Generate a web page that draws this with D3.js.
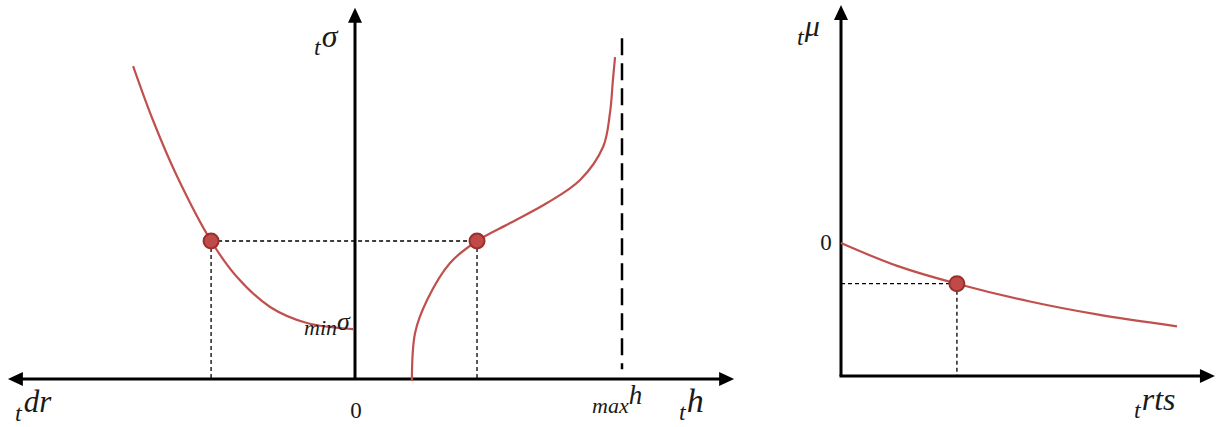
<!DOCTYPE html>
<html>
<head>
<meta charset="utf-8">
<script src="https://cdn.jsdelivr.net/npm/d3@7"></script>
<style>
  html, body { margin: 0; padding: 0; background: #ffffff; }
  svg { display: block; }
  .math { font-family: "Liberation Serif", "DejaVu Serif", serif; font-style: italic; fill: #1a1a1a; }
  .num { font-family: "Liberation Serif", "DejaVu Serif", serif; fill: #1a1a1a; }
</style>
</head>
<body>
<svg id="chart" width="1219" height="427"></svg>
<script>
// ---- Left panel: σ as function of dr (left branch) and h (right branch) ----
const leftBranchX = [-0.831, -0.757, -0.667, -0.539, -0.442, -0.318, -0.180, -0.007];
const leftBranchY = [2.268, 1.877, 1.471, 1.000, 0.739, 0.522, 0.406, 0.362];

const rightBranchX = [0.213, 0.225, 0.270, 0.356, 0.457, 0.581, 0.719, 0.843, 0.929, 0.955, 0.966, 0.974];
const rightBranchY = [-0.015, 0.333, 0.572, 0.841, 1.000, 1.130, 1.275, 1.442, 1.681, 1.928, 2.167, 2.333];

const leftMarkersX = [-0.539, 0.457];
const leftMarkersY = [1.0, 1.0];
const hMax = 1.0;
const sigmaMin = 0.362;

// ---- Right panel: μ as function of rts ----
const muX = [0.0, 0.167, 0.345, 0.5625, 0.762, 1.0];
const muY = [0.0, -0.172, -0.306, -0.440, -0.537, -0.627];
const muMarkerX = [0.345];
const muMarkerY = [-0.306];

// tick labels
const leftZeroLabel = ["0"];
const rightZeroLabel = ["0"];

const svg = d3.select("#chart");
const curveColor = "#c0504d";

// scales
const xL = d3.scaleLinear().domain([0, 1]).range([355, 622]);
const yL = d3.scaleLinear().domain([0, 1]).range([379, 241]);
const xR = d3.scaleLinear().domain([0, 1]).range([841, 1177]);
const yR = d3.scaleLinear().domain([-1, 0]).range([376, 243]);

function arrowAxis(x1, y1, x2, y2) {
  svg.append("line").attr("x1", x1).attr("y1", y1).attr("x2", x2).attr("y2", y2)
    .attr("stroke", "#000").attr("stroke-width", 3);
}
function arrowHead(tx, ty, dir) {
  const L = 15, W = 7;
  let pts;
  if (dir === "up") pts = [[tx, ty], [tx - W, ty + L], [tx + W, ty + L]];
  if (dir === "left") pts = [[tx, ty], [tx + L, ty - W], [tx + L, ty + W]];
  if (dir === "right") pts = [[tx, ty], [tx - L, ty - W], [tx - L, ty + W]];
  svg.append("path").attr("d", "M" + pts.map(p => p.join(",")).join("L") + "Z").attr("fill", "#000");
}

// ---------- LEFT PANEL ----------
const xLmin = -1.30, xLmax = 1.42, yLtop = 2.69;
const dashG = svg.append("g").attr("stroke", "#000").attr("stroke-width", 1.3).attr("stroke-dasharray", "4,3").attr("fill", "none");
dashG.append("line").attr("x1", xL(leftMarkersX[0])).attr("x2", xL(leftMarkersX[1]))
  .attr("y1", yL(leftMarkersY[0])).attr("y2", yL(leftMarkersY[1]));
leftMarkersX.forEach((mx, i) => {
  dashG.append("line").attr("x1", xL(mx)).attr("x2", xL(mx)).attr("y1", yL(leftMarkersY[i])).attr("y2", yL(0));
});
// h max asymptote
svg.append("line").attr("x1", xL(hMax)).attr("x2", xL(hMax)).attr("y1", yL(2.47)).attr("y2", yL(0.07))
  .attr("stroke", "#000").attr("stroke-width", 2.5).attr("stroke-dasharray", "17,8");

// axes
arrowAxis(xL(xLmin) + 10, yL(0), xL(xLmax) - 10, yL(0));
arrowHead(xL(xLmin), yL(0), "left");
arrowHead(xL(xLmax), yL(0), "right");
arrowAxis(xL(0), yL(0), xL(0), yL(yLtop) + 10);
arrowHead(xL(0), yL(yLtop), "up");

// curves
const lineL = d3.line().x(d => xL(d[0])).y(d => yL(d[1])).curve(d3.curveCatmullRom.alpha(0.5));
svg.append("path").attr("d", lineL(d3.zip(leftBranchX, leftBranchY)))
  .attr("fill", "none").attr("stroke", curveColor).attr("stroke-width", 2.2);
svg.append("path").attr("d", lineL(d3.zip(rightBranchX, rightBranchY)))
  .attr("fill", "none").attr("stroke", curveColor).attr("stroke-width", 2.2);

// markers
leftMarkersX.forEach((mx, i) => {
  svg.append("circle").attr("cx", xL(mx)).attr("cy", yL(leftMarkersY[i])).attr("r", 7.5)
    .attr("fill", "#bf4a47").attr("stroke", "#99302e").attr("stroke-width", 2);
});

// labels
function label(x, y, parts) {
  const t = svg.append("text").attr("x", x).attr("y", y);
  parts.forEach(p => {
    const s = t.append("tspan").attr("class", p.cls || "math").attr("font-size", p.size).text(p.text);
    if (p.dy) s.attr("dy", p.dy);
    if (p.dx) s.attr("dx", p.dx);
  });
  return t;
}
label(314, 55, [{ text: "t", size: 24 }, { text: "σ", size: 32, dy: -8, dx: 1 }]);
label(15, 421, [{ text: "t", size: 24 }, { text: "dr", size: 31, dy: -9, dx: 2 }]);
svg.append("text").attr("class", "num").attr("x", xL(0) + 1).attr("y", 418).attr("text-anchor", "middle")
  .style("font-size", "23px").text(leftZeroLabel[0]);
label(304, 335, [{ text: "min", size: 22 }, { text: "σ", size: 26, dy: -5, dx: 0 }]);
label(592, 413, [{ text: "max", size: 22 }, { text: "h", size: 27, dy: -9, dx: 0 }]);
label(679, 420, [{ text: "t", size: 24 }, { text: "h", size: 34, dy: -8, dx: 1 }]);

// ---------- RIGHT PANEL ----------
const xRmax = 1.113, yRtop = 1.79;
const dashR = svg.append("g").attr("stroke", "#000").attr("stroke-width", 1.3).attr("stroke-dasharray", "4,3");
dashR.append("line").attr("x1", xR(0)).attr("x2", xR(muMarkerX[0])).attr("y1", yR(muMarkerY[0])).attr("y2", yR(muMarkerY[0]));
dashR.append("line").attr("x1", xR(muMarkerX[0])).attr("x2", xR(muMarkerX[0])).attr("y1", yR(muMarkerY[0])).attr("y2", yR(-1));

arrowAxis(xR(0) - 1.5, yR(-1), xR(xRmax) - 10, yR(-1));
arrowHead(xR(xRmax), yR(-1), "right");
arrowAxis(xR(0), yR(-1), xR(0), yR(yRtop) + 10);
arrowHead(xR(0), yR(yRtop), "up");

const lineR = d3.line().x(d => xR(d[0])).y(d => yR(d[1])).curve(d3.curveCatmullRom.alpha(0.5));
svg.append("path").attr("d", lineR(d3.zip(muX, muY)))
  .attr("fill", "none").attr("stroke", curveColor).attr("stroke-width", 2.2);
svg.append("circle").attr("cx", xR(muMarkerX[0])).attr("cy", yR(muMarkerY[0])).attr("r", 7.5)
  .attr("fill", "#bf4a47").attr("stroke", "#99302e").attr("stroke-width", 2);

label(797, 45, [{ text: "t", size: 24 }, { text: "μ", size: 30, dy: -9, dx: 1 }]);
svg.append("text").attr("class", "num").attr("x", 826).attr("y", 250).attr("text-anchor", "middle")
  .style("font-size", "23px").text(rightZeroLabel[0]);
label(1134, 418, [{ text: "t", size: 24 }, { text: "rts", size: 32, dy: -8, dx: 1 }]);
</script>
</body>
</html>
